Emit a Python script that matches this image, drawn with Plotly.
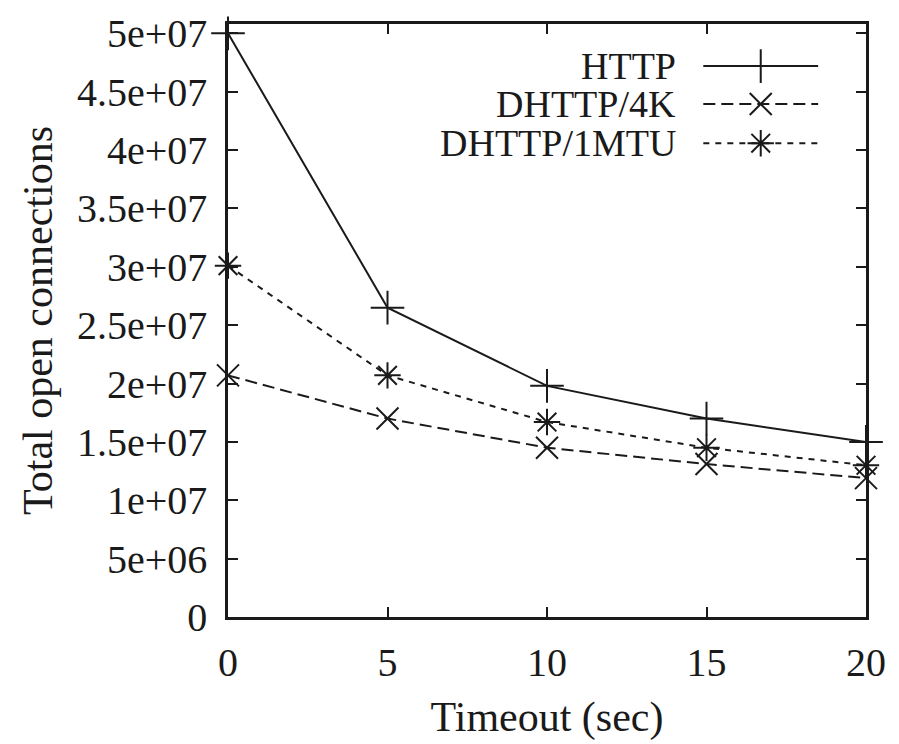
import plotly.graph_objects as go

timeout = [0, 5, 10, 15, 20]
http = [5.0e7, 2.65e7, 1.98e7, 1.70e7, 1.50e7]
dhttp_4k = [2.07e7, 1.70e7, 1.45e7, 1.31e7, 1.19e7]
dhttp_1mtu = [3.01e7, 2.07e7, 1.67e7, 1.45e7, 1.30e7]

series_names = ["HTTP", "DHTTP/4K", "DHTTP/1MTU"]
y_ticks = [0, 5e6, 1e7, 1.5e7, 2e7, 2.5e7, 3e7, 3.5e7, 4e7, 4.5e7, 5e7]
y_tick_labels = ["0", "5e+06", "1e+07", "1.5e+07", "2e+07", "2.5e+07", "3e+07",
                 "3.5e+07", "4e+07", "4.5e+07", "5e+07"]
x_ticks = [0, 5, 10, 15, 20]

FONT = "Liberation Serif, Times New Roman, serif"
INK = "#1a1a1a"

styles = [
    dict(dash="solid", symbol="cross-thin", size=24),
    dict(dash="12px,6px", symbol="x-thin", size=22),
    dict(dash="6px,6px", symbol="asterisk", size=22),
]
data = [http, dhttp_4k, dhttp_1mtu]

fig = go.Figure()
for name, ys, st in zip(series_names, data, styles):
    fig.add_trace(go.Scatter(
        x=timeout, y=ys, mode="lines+markers", name=name, showlegend=False,
        line=dict(color=INK, width=2, dash=st["dash"]),
        marker=dict(symbol=st["symbol"], size=st["size"], color=INK,
                    line=dict(color=INK, width=2)),
        cliponaxis=False,
    ))

# custom legend (text left of sample, gnuplot style) on a hidden overlay axis
leg_x0, leg_x1, leg_xm = 0.745, 0.925, 0.835
leg_y = [0.929, 0.865, 0.799]
for name, st, ly in zip(series_names, styles, leg_y):
    fig.add_trace(go.Scatter(
        x=[leg_x0, leg_x1], y=[ly, ly], mode="lines", xaxis="x2", yaxis="y2",
        showlegend=False, hoverinfo="skip",
        line=dict(color=INK, width=2, dash=st["dash"]),
    ))
    fig.add_trace(go.Scatter(
        x=[leg_xm], y=[ly], mode="markers", xaxis="x2", yaxis="y2",
        showlegend=False, hoverinfo="skip",
        marker=dict(symbol=st["symbol"], size=st["size"], color=INK,
                    line=dict(color=INK, width=2)),
    ))
    fig.add_annotation(x=0.705, y=ly, xref="paper", yref="paper", text=name,
                       showarrow=False, xanchor="right", yanchor="middle",
                       font=dict(family=FONT, size=38, color=INK))

axis_common = dict(
    showgrid=False, zeroline=False, showline=True, linecolor=INK, linewidth=2.5,
    mirror="ticks", ticks="inside", ticklen=10, tickwidth=2, tickcolor=INK,
    tickfont=dict(family=FONT, size=40, color=INK),
)

fig.update_layout(
    width=899, height=744,
    margin=dict(l=228, r=33, t=18, b=118),
    paper_bgcolor="white", plot_bgcolor="white",
    xaxis=dict(range=[0, 20], tickvals=x_ticks, ticktext=[str(t) for t in x_ticks],
               ticklabelstandoff=8,
               title=dict(text="Timeout (sec)", font=dict(family=FONT, size=42, color=INK),
                          standoff=18),
               **axis_common),
    yaxis=dict(range=[0, 5.08e7], tickvals=y_ticks, ticktext=y_tick_labels,
               ticklabelstandoff=10,
               title=dict(text="Total open connections",
                          font=dict(family=FONT, size=42, color=INK), standoff=12),
               **axis_common),
    xaxis2=dict(range=[0, 1], overlaying="x", visible=False, fixedrange=True),
    yaxis2=dict(range=[0, 1], overlaying="y", visible=False, fixedrange=True),
)

fig.write_html("out.html")
